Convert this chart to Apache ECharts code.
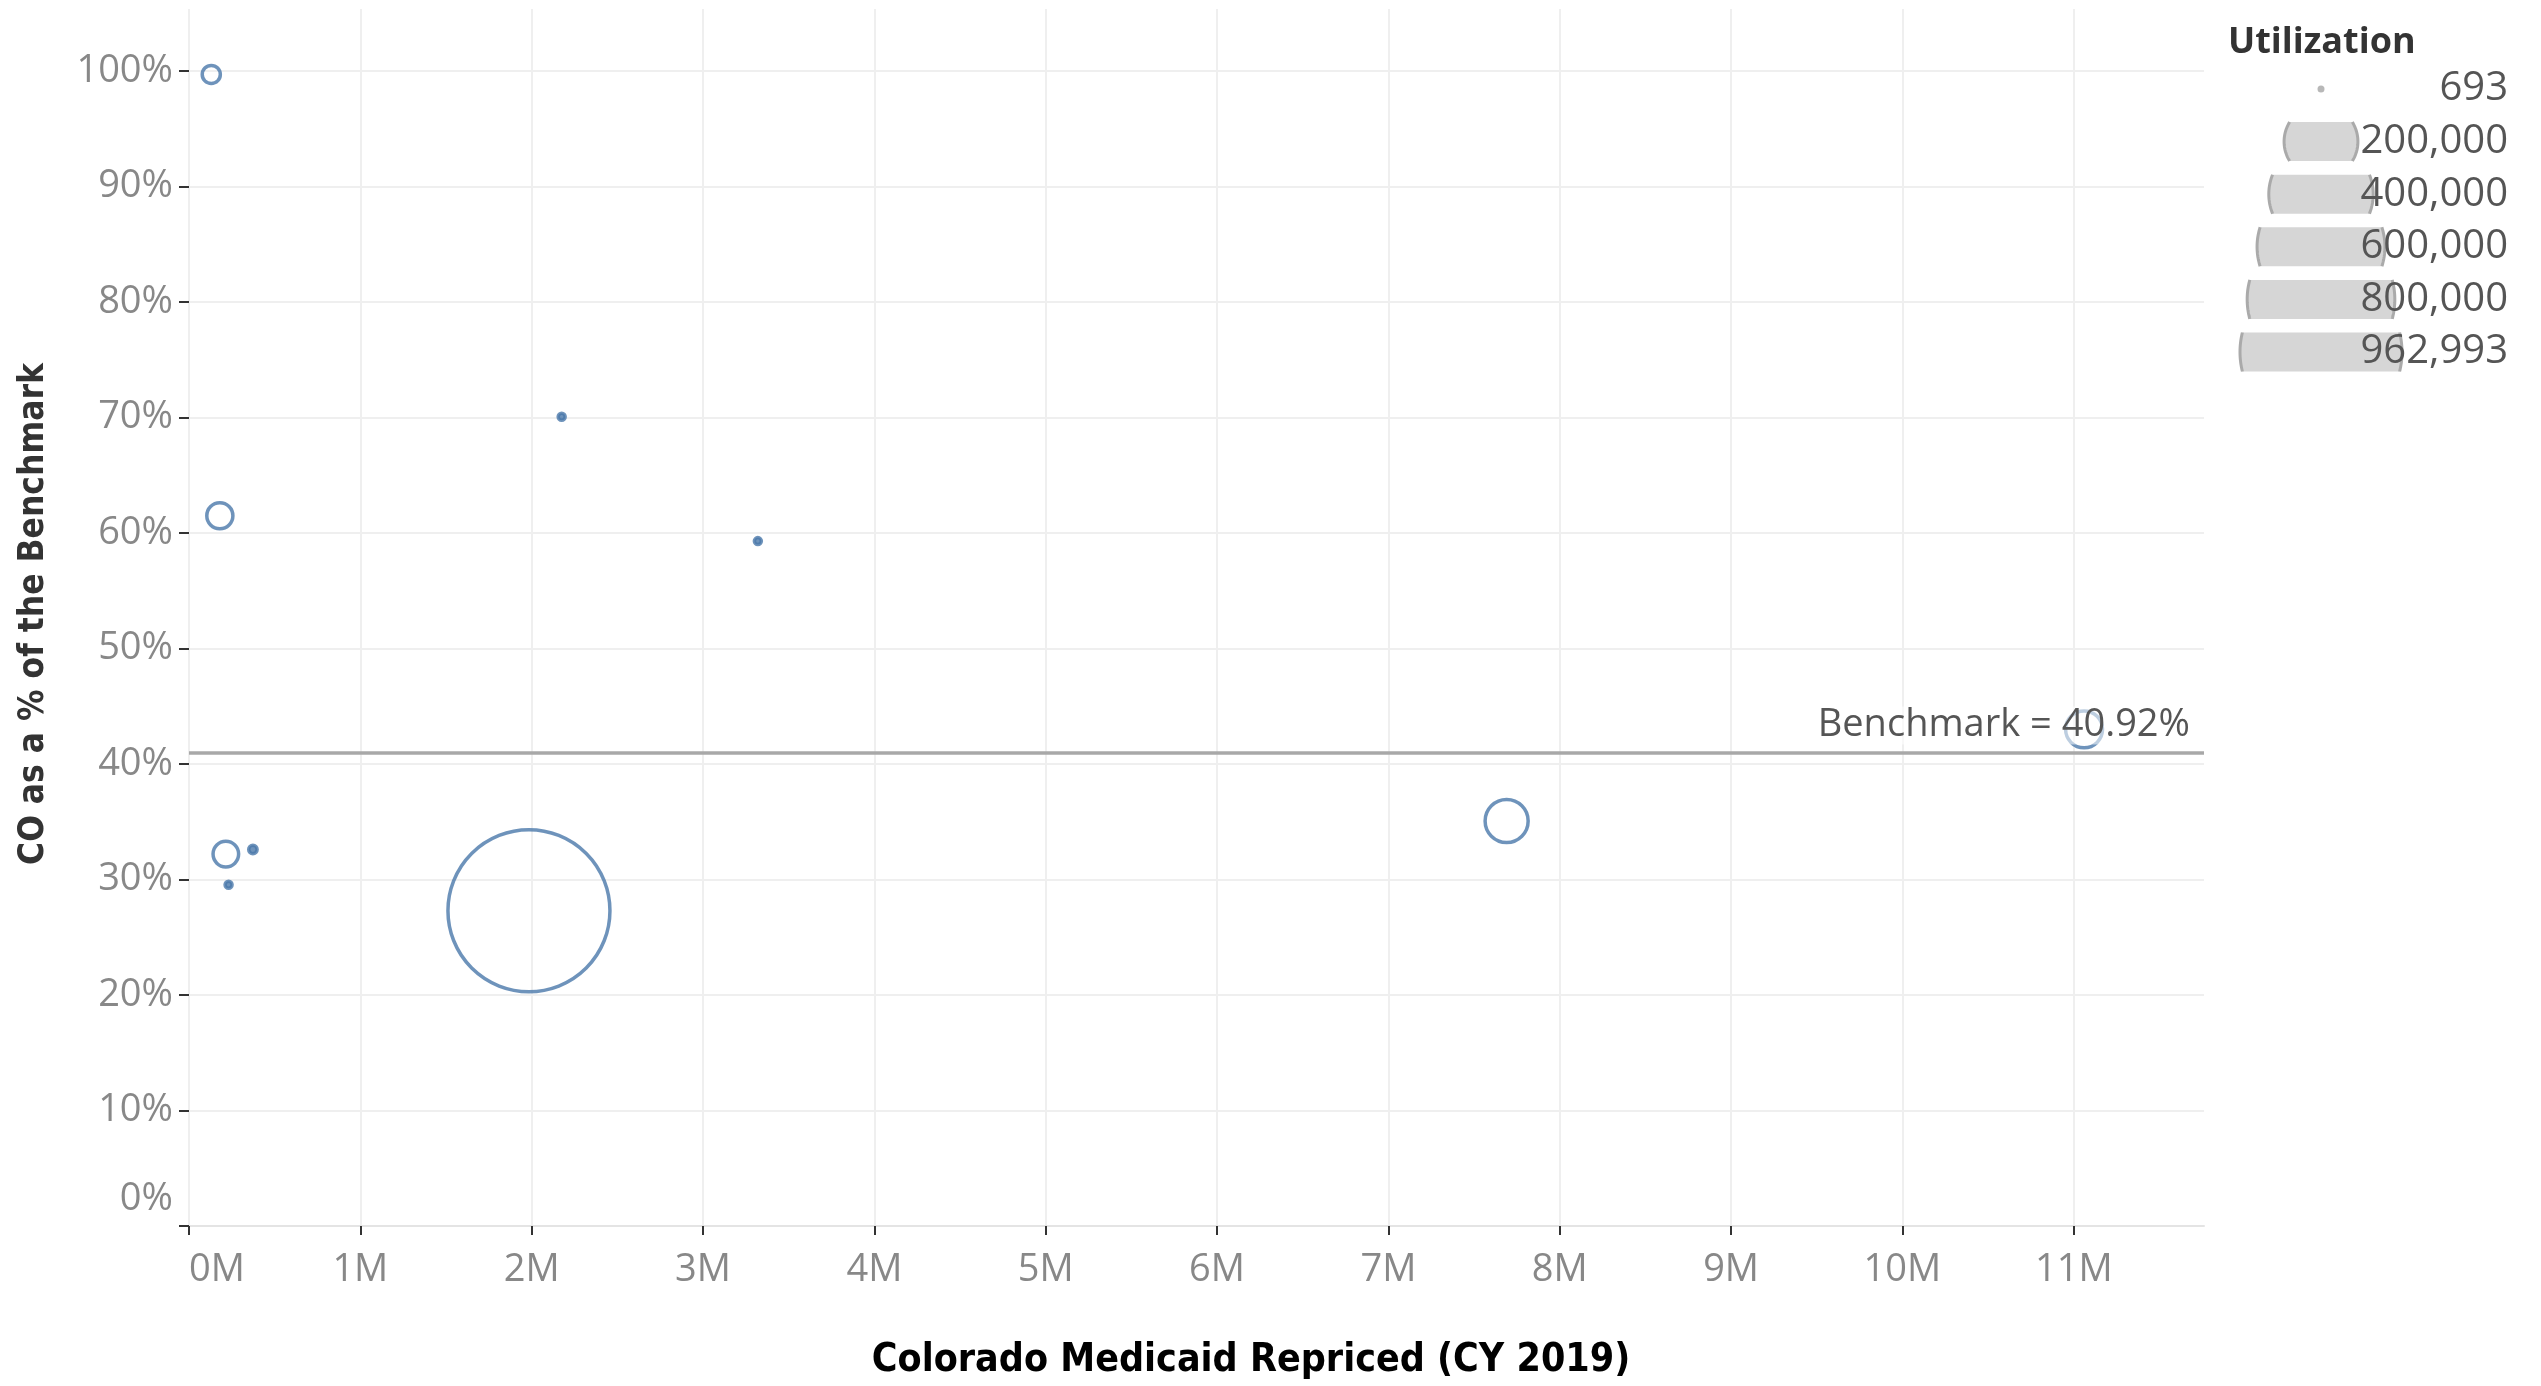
<!DOCTYPE html>
<html>
<head>
<meta charset="utf-8">
<title>CO as a % of the Benchmark</title>
<script src="https://cdn.jsdelivr.net/npm/echarts@6/dist/echarts.min.js"></script>
<style>
  html, body { margin: 0; padding: 0; background: #fff; }
  #chart { width: 2541px; height: 1386px; }
</style>
</head>
<body>
<div id="chart"></div>
<script>
// values
var repriced    = [130000, 180000, 2175000, 3320000, 215000, 373000, 231000, 1984000, 7690000, 11060000];
var coPct       = [0.997, 0.615, 0.7007, 0.593, 0.322, 0.326, 0.2955, 0.273, 0.3506, 0.430];
var utilization = [12000, 25000, 1800, 693, 24000, 2600, 1400, 962993, 68000, 50000];
var benchmark   = 0.4092;

var xTicks = [0, 1e6, 2e6, 3e6, 4e6, 5e6, 6e6, 7e6, 8e6, 9e6, 10e6, 11e6];
var yTicks = [0, 0.1, 0.2, 0.3, 0.4, 0.5, 0.6, 0.7, 0.8, 0.9, 1.0];
var legendValues = [693, 200000, 400000, 600000, 800000, 962993];

var blue = '#4a78aa';
var tickFont = '"Open Sans", sans-serif';
var titleFont = '"Liberation Sans Narrow", "DejaVu Sans Condensed", "Open Sans", sans-serif';
var maxUtil = Math.max.apply(null, utilization);

// bubble diameter, area proportional to utilization (tiny marks kept visible)
function sizeOf(u) {
    return Math.max(7, 162 * Math.sqrt(u / maxUtil));
}

var points = [];
for (var i = 0; i < repriced.length; i++) {
    points.push([repriced[i], coPct[i], utilization[i]]);
}
var legendData = [];
for (var k = 0; k < legendValues.length; k++) {
    legendData.push([0, k, legendValues[k]]);
}

var rowH = 52.6;     // legend row pitch
var bandHalf = 19.5; // legend circles are cut to this half height

// legend circle cut to its row band, like the reference
function legendItem(params, api) {
    var c = api.coord([api.value(0), api.value(1)]);
    var r = sizeOf(api.value(2)) / 2;
    if (r <= bandHalf) {
        return { type: 'circle', shape: { cx: c[0], cy: c[1], r: r }, style: { fill: '#b8b8b8' } };
    }
    var a = Math.asin(bandHalf / r);
    var right = [], left = [];
    for (var s = 0; s <= 24; s++) {
        var t = -a + 2 * a * s / 24;
        right.push([c[0] + r * Math.cos(t), c[1] + r * Math.sin(t)]);
        left.push([c[0] - r * Math.cos(t), c[1] - r * Math.sin(t)]);
    }
    return {
        type: 'group',
        children: [
            { type: 'polygon', shape: { points: right.concat(left) }, style: { fill: '#d6d6d6' } },
            { type: 'polyline', shape: { points: right }, style: { stroke: '#aaaaaa', lineWidth: 3, fill: null } },
            { type: 'polyline', shape: { points: left }, style: { stroke: '#aaaaaa', lineWidth: 3, fill: null } }
        ]
    };
}

var chart = echarts.init(document.getElementById('chart'));

var graphics = [];
for (var j = 0; j < legendValues.length; j++) {
    graphics.push({
        type: 'text', x: 2508, y: 89 + j * rowH, z: 100,
        style: {
            text: legendValues[j].toLocaleString('en-US'),
            align: 'right', verticalAlign: 'middle',
            textAlign: 'right', textVerticalAlign: 'middle',
            font: '40px ' + tickFont, fill: '#555'
        }
    });
}
graphics.push({
    type: 'text', x: 2228, y: 43, z: 100,
    style: {
        text: 'Utilization', align: 'left', verticalAlign: 'middle',
        textAlign: 'left', textVerticalAlign: 'middle',
        font: 'bold 36px ' + tickFont, fill: '#333'
    }
});
graphics.push({
    type: 'text', x: 1251, y: 1361, z: 100,
    style: {
        text: 'Colorado Medicaid Repriced (CY 2019)', align: 'center', verticalAlign: 'middle',
        textAlign: 'center', textVerticalAlign: 'middle',
        font: 'bold 39px ' + titleFont, fill: '#000'
    }
});
graphics.push({
    type: 'text', x: 34, y: 614, z: 100, rotation: Math.PI / 2,
    style: {
        text: 'CO as a % of the Benchmark', align: 'center', verticalAlign: 'middle',
        textAlign: 'center', textVerticalAlign: 'middle',
        font: 'bold 35px ' + titleFont, fill: '#333'
    }
});

chart.setOption({
    animation: false,
    backgroundColor: '#fff',
    grid: [
        { left: 189, right: 337, top: 9, bottom: 160 },
        { left: 2221, top: 89 - rowH / 2, width: 200, height: rowH * legendValues.length }
    ],
    xAxis: [{
        type: 'value', gridIndex: 0, min: 0, max: 11760000,
        axisLine: { show: true, lineStyle: { color: '#e4e4e4', width: 2 } },
        axisTick: { show: true, length: 9, customValues: xTicks, lineStyle: { color: '#333', width: 2 } },
        splitLine: { show: true, lineStyle: { color: '#efefef', width: 2 } },
        axisLabel: {
            customValues: xTicks, margin: 25, color: '#888', fontSize: 38, fontFamily: tickFont,
            alignMinLabel: 'left',
            formatter: function (v) { return Math.round(v / 1e6) + 'M'; }
        }
    }, {
        type: 'value', gridIndex: 1, min: -1, max: 1, show: false
    }],
    yAxis: [{
        type: 'value', gridIndex: 0, min: 0, max: 1.0537,
        axisLine: { show: false },
        axisTick: { show: true, length: 10, customValues: yTicks, lineStyle: { color: '#333', width: 2 } },
        splitLine: { show: true, lineStyle: { color: '#efefef', width: 2 } },
        axisLabel: {
            customValues: yTicks, margin: 16, color: '#888', fontSize: 38, fontFamily: tickFont,
            lineHeight: 54,
            verticalAlignMinLabel: 'bottom',
            formatter: function (v) { return Math.round(v * 100) + '%'; }
        }
    }, {
        type: 'category', gridIndex: 1, inverse: true, show: false,
        data: legendValues.map(String)
    }],
    series: [{
        type: 'scatter',
        xAxisIndex: 0, yAxisIndex: 0,
        data: points,
        symbol: 'circle',
        symbolSize: function (d) { return sizeOf(d[2]); },
        itemStyle: {
            // the smallest marks read as solid dots in the reference
            color: function (p) { return sizeOf(p.data[2]) < 10 ? blue : 'rgba(0,0,0,0)'; },
            borderColor: blue, borderWidth: 3.5
        },
        markLine: {
            silent: true,
            symbol: ['none', 'none'],
            data: [{ yAxis: benchmark }],
            lineStyle: { color: '#a8a8a8', width: 3.5, type: 'solid' },
            label: {
                position: 'insideEndTop',
                distance: [12, 8],
                formatter: 'Benchmark = ' + (benchmark * 100).toFixed(2) + '%',
                color: '#555', fontSize: 38, fontFamily: tickFont,
                backgroundColor: 'rgba(255,255,255,0.55)',
                padding: [0, 2]
            }
        }
    }, {
        type: 'custom',
        xAxisIndex: 1, yAxisIndex: 1,
        silent: true,
        clip: false,
        data: legendData,
        encode: { x: 0, y: 1 },
        renderItem: legendItem
    }],
    graphic: graphics
});
</script>
</body>
</html>
